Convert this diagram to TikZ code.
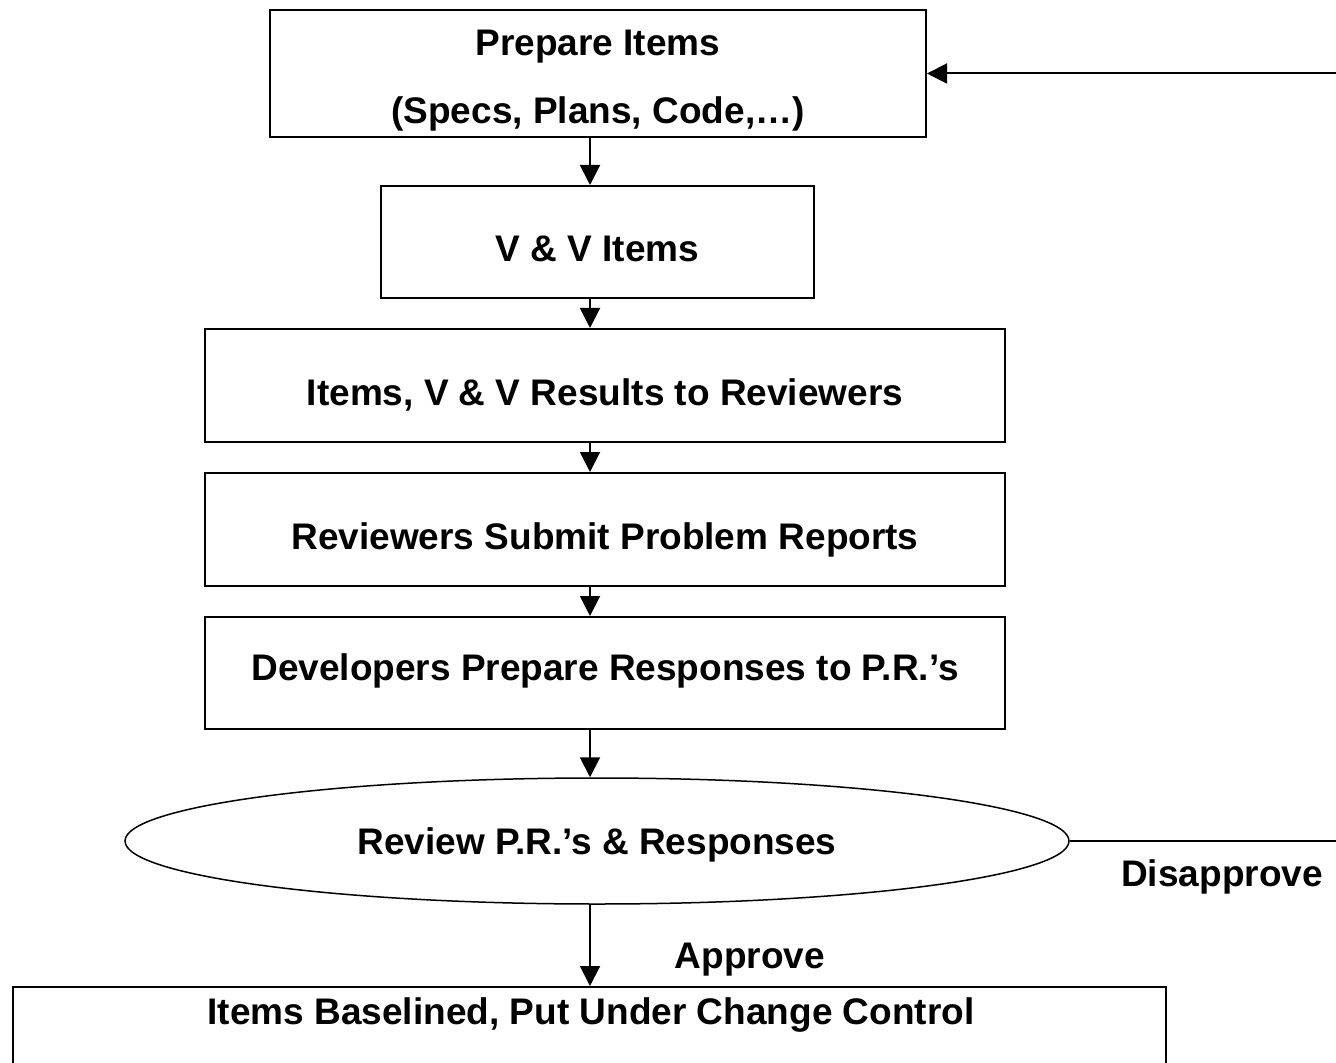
\documentclass[tikz,border=0pt]{standalone}
\usepackage{fontspec}
\setmainfont{Liberation Sans}
\usetikzlibrary{arrows.meta, shapes.geometric}

\begin{document}
\begin{tikzpicture}[x=0.5pt, y=-0.5pt,
  font=\fontsize{18.5pt}{34pt}\selectfont\bfseries,
  stage/.style={draw, line width=1pt, inner sep=0pt, align=center, text height=24pt, text depth=4pt},
  flow/.style={line width=1pt, -{Triangle[length=10pt, width=10pt]}}]
\clip (0,0) rectangle (1336,1063);
\coordinate (spine) at (590,0);
\node[stage, minimum width=328pt, minimum height=63.5pt, text height=54pt] (prep) at (598,73.5) {Prepare Items\\(Specs, Plans, Code,…)};
\node[stage, minimum width=216.5pt, minimum height=56pt] (vv) at (597.5,242) {V \& V Items};
\node[stage, minimum width=400pt, minimum height=56.5pt] (send) at (605,385.5) {Items, V \& V Results to Reviewers};
\node[stage, minimum width=400pt, minimum height=56.5pt] (submit) at (605,529.5) {Reviewers Submit Problem Reports};
\node[stage, minimum width=400pt, minimum height=56pt, text height=11pt] (respond) at (605,673) {Developers Prepare Responses to P.R.’s};
\node[draw, ellipse, line width=0.75pt, inner sep=0pt, minimum width=472pt, minimum height=63pt, text height=17.5pt, text depth=4pt] (review) at (597,841) {Review P.R.’s \& Responses};
\node[stage, anchor=north west, minimum width=576.5pt, minimum height=60pt] (base) at (12,986) {};
\node (baseText) at (591,1015) {Items Baselined, Put Under Change Control};
\node (approve) at (750,960) {Approve};
\node (disapprove) at (1222,877) {Disapprove};
\coordinate (back) at (1342,841);
\draw[flow] (prep.south -| spine) -- (vv.north -| spine);
\draw[flow] (vv.south -| spine) -- (send.north -| spine);
\draw[flow] (send.south -| spine) -- (submit.north -| spine);
\draw[flow] (submit.south -| spine) -- (respond.north -| spine);
\draw[flow] (respond.south -| spine) -- (review.north -| spine);
\draw[flow] (review.south -| spine) -- (base.north -| spine);
\draw[flow] (review.east) -- (back) |- (prep.east);
\end{tikzpicture}
\end{document}
